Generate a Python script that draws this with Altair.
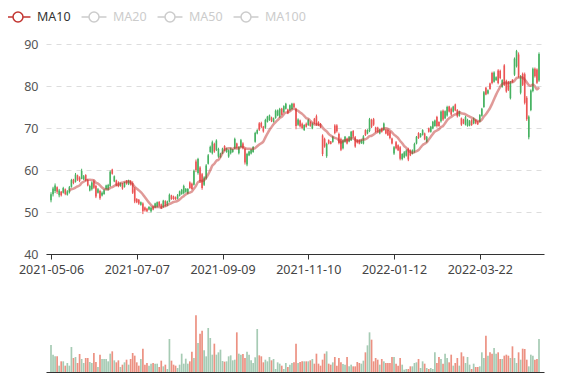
import altair as alt
import numpy as np
import pandas as pd

# ---------------- data ----------------
opens = [52.8, 54.2, 55.0, 55.9, 54.0, 54.8, 54.6, 55.4, 54.1, 54.7,
         56.0, 57.7, 57.2, 58.7, 58.2, 57.9, 57.8, 58.8, 57.6, 55.1,
         55.4, 57.3, 56.2, 54.6, 55.0, 53.9, 54.3, 55.4, 55.3, 56.2,
         60.1, 57.3, 57.5, 57.0, 56.2, 56.7, 56.0, 57.4, 56.6, 57.4,
         56.9, 55.5, 53.1, 52.9, 51.7, 52.0, 51.1, 50.8, 50.6, 50.2,
         51.3, 51.1, 51.3, 52.4, 51.8, 51.2, 52.6, 51.6, 52.5, 53.9,
         53.7, 53.5, 53.2, 53.9, 54.3, 54.5, 54.8, 54.4, 57.0, 56.7,
         56.5, 62.0, 59.3, 60.6, 59.0, 56.5, 58.0, 61.5, 64.3, 64.0,
         66.2, 64.8, 63.2, 63.1, 64.0, 65.7, 64.3, 63.2, 64.0, 64.3,
         65.1, 66.3, 64.0, 65.5, 66.3, 65.0, 61.3, 63.5, 63.9, 64.3,
         66.7, 68.7, 71.1, 71.2, 70.3, 70.1, 71.5, 71.9, 72.5, 71.5,
         72.4, 73.0, 72.7, 74.6, 73.8, 74.6, 74.4, 74.2, 74.5, 75.8,
         74.5, 70.8, 71.8, 71.0, 69.5, 71.0, 70.7, 71.4, 69.9, 72.2,
         72.8, 71.4, 71.0, 68.2, 67.4, 63.3, 67.1, 66.8, 66.7, 70.6,
         70.6, 68.6, 67.4, 65.2, 66.7, 67.5, 66.8, 67.1, 69.3, 67.8,
         67.1, 67.1, 66.4, 66.3, 69.5, 68.7, 69.3, 71.9, 72.1, 70.1,
         70.1, 68.7, 69.9, 69.5, 69.6, 69.5, 69.0, 67.5, 63.9, 66.6,
         65.9, 65.4, 62.6, 63.0, 63.4, 65.0, 64.7, 63.9, 64.4, 66.3,
         68.8, 67.9, 68.4, 68.7, 66.7, 69.9, 69.1, 69.9, 70.5, 72.6,
         71.4, 71.6, 74.1, 72.3, 73.0, 75.1, 74.6, 73.9, 75.6, 74.3,
         72.9, 72.3, 72.0, 70.8, 70.5, 70.6, 71.9, 71.1, 71.9, 71.5,
         71.5, 72.9, 75.0, 79.6, 78.2, 80.6, 83.1, 81.0, 81.4, 83.7,
         83.6, 79.8, 84.9, 81.2, 80.9, 77.1, 81.5, 82.7, 84.7, 87.5,
         78.4, 82.9, 82.8, 77.2, 67.8, 74.3, 78.8, 84.1, 83.9, 81.3]
closes = [54.2, 55.6, 56.3, 54.8, 55.1, 54.0, 55.7, 54.3, 54.9, 55.9,
          57.6, 56.9, 58.9, 57.7, 57.4, 59.8, 58.5, 57.5, 56.3, 56.2,
          57.0, 55.8, 53.7, 55.4, 53.3, 54.6, 55.2, 56.3, 56.4, 59.6,
          59.1, 58.5, 56.3, 56.1, 56.8, 55.6, 57.0, 56.7, 57.5, 56.6,
          54.6, 52.5, 52.3, 52.0, 52.3, 50.2, 50.4, 50.2, 51.2, 51.0,
          50.6, 52.0, 52.3, 51.5, 50.9, 52.7, 51.5, 52.5, 54.1, 53.1,
          53.1, 53.0, 54.0, 54.9, 55.3, 56.2, 55.5, 55.5, 55.7, 55.5,
          59.8, 60.0, 62.6, 57.3, 55.7, 58.2, 61.1, 63.5, 65.5, 66.6,
          64.4, 67.0, 65.0, 63.9, 65.1, 64.7, 65.1, 64.7, 65.1, 64.9,
          67.4, 65.3, 65.5, 67.1, 65.2, 61.8, 63.8, 64.4, 64.8, 65.5,
          68.8, 69.5, 69.6, 70.3, 69.2, 71.9, 72.7, 73.0, 71.6, 72.3,
          74.1, 74.2, 74.5, 73.2, 75.2, 75.8, 73.5, 75.4, 75.8, 75.0,
          70.5, 72.0, 70.4, 70.0, 70.7, 70.3, 71.9, 70.5, 71.0, 71.1,
          70.8, 70.7, 70.2, 63.8, 65.6, 66.2, 66.3, 66.2, 67.9, 68.8,
          69.2, 66.4, 64.8, 67.0, 67.9, 66.3, 67.9, 69.1, 67.9, 65.6,
          66.5, 66.3, 67.1, 68.0, 68.3, 69.5, 72.1, 70.3, 70.8, 69.1,
          69.1, 69.6, 69.1, 71.1, 68.7, 68.3, 67.6, 66.3, 65.4, 65.2,
          64.7, 62.7, 63.8, 64.2, 64.6, 62.5, 63.5, 64.7, 66.2, 67.9,
          67.6, 68.6, 69.5, 67.3, 67.9, 69.1, 70.3, 71.5, 71.8, 70.5,
          70.5, 73.9, 72.0, 74.0, 75.0, 73.9, 73.2, 75.1, 74.2, 72.8,
          73.9, 70.8, 71.1, 72.6, 71.9, 71.6, 70.7, 72.3, 71.1, 70.9,
          73.1, 74.6, 78.5, 78.0, 79.0, 79.3, 80.7, 83.2, 82.1, 80.7,
          81.9, 81.4, 80.3, 78.7, 79.1, 80.9, 80.9, 86.5, 88.3, 82.4,
          82.3, 80.3, 76.0, 72.1, 72.7, 78.9, 84.1, 82.3, 80.8, 87.6]
highs = [54.7, 56.0, 56.8, 56.1, 55.5, 55.0, 56.0, 55.6, 55.2, 56.2,
         57.9, 57.9, 59.3, 58.9, 58.5, 60.3, 58.8, 59.0, 57.9, 56.5,
         57.3, 57.7, 56.5, 55.7, 55.3, 54.9, 55.5, 56.5, 56.7, 59.9,
         60.3, 58.7, 57.7, 57.3, 57.0, 56.9, 57.2, 57.6, 57.7, 57.6,
         57.3, 55.9, 53.3, 53.1, 52.5, 52.3, 51.3, 51.0, 51.4, 51.3,
         51.5, 52.2, 52.5, 52.6, 52.0, 52.9, 52.8, 52.7, 54.4, 54.1,
         53.9, 53.7, 54.3, 55.1, 55.5, 56.5, 55.7, 55.7, 57.3, 57.0,
         60.1, 62.5, 62.9, 60.9, 59.3, 58.5, 61.4, 63.8, 65.8, 67.0,
         66.5, 67.3, 65.3, 64.1, 65.3, 65.9, 65.3, 64.9, 65.3, 65.0,
         67.7, 66.5, 65.7, 67.4, 66.6, 65.3, 64.1, 64.6, 65.0, 65.7,
         69.1, 69.7, 71.4, 71.5, 70.5, 72.2, 72.9, 73.2, 72.7, 72.5,
         74.4, 74.4, 74.8, 74.8, 75.4, 76.0, 74.6, 75.6, 76.0, 76.0,
         74.8, 72.3, 72.0, 71.3, 70.9, 71.3, 72.2, 71.6, 71.3, 72.4,
         73.2, 71.6, 71.2, 68.5, 67.7, 66.5, 67.3, 66.9, 68.1, 70.9,
         70.9, 68.9, 67.7, 67.3, 68.1, 67.7, 68.1, 69.3, 69.5, 68.1,
         67.3, 67.3, 67.3, 68.3, 69.7, 69.7, 72.4, 72.2, 72.4, 70.3,
         70.3, 69.8, 70.1, 71.3, 69.8, 69.7, 69.3, 67.7, 65.7, 66.9,
         66.1, 65.7, 64.0, 64.5, 64.9, 65.3, 64.9, 64.9, 66.5, 68.1,
         69.0, 68.8, 69.7, 68.9, 68.1, 70.1, 70.5, 71.7, 72.0, 72.9,
         71.6, 74.2, 74.4, 74.2, 75.3, 75.3, 74.9, 75.3, 75.8, 74.5,
         74.1, 72.5, 72.2, 72.9, 72.2, 71.9, 72.1, 72.5, 72.1, 71.7,
         73.3, 74.8, 78.8, 79.8, 79.2, 80.8, 83.4, 83.5, 82.3, 84.0,
         83.9, 81.6, 85.2, 81.5, 81.2, 81.2, 81.6, 86.8, 88.6, 88.0,
         82.6, 83.2, 83.2, 77.6, 73.0, 79.2, 84.4, 84.4, 84.2, 88.0]
lows = [52.3, 53.7, 54.5, 54.3, 53.5, 53.7, 54.4, 54.0, 53.9, 54.4,
        55.8, 56.6, 57.0, 57.4, 57.1, 57.8, 57.6, 57.3, 56.1, 54.9,
        55.1, 55.5, 53.3, 54.4, 52.9, 53.7, 54.1, 55.3, 55.1, 56.0,
        58.9, 57.1, 56.1, 55.9, 56.0, 55.3, 55.8, 56.5, 56.4, 56.3,
        54.3, 52.1, 52.1, 51.7, 51.5, 49.5, 50.1, 50.0, 50.4, 49.9,
        50.4, 50.9, 51.1, 51.3, 50.7, 51.0, 51.3, 51.4, 52.3, 52.9,
        52.9, 52.9, 53.0, 53.7, 54.1, 54.2, 54.6, 54.2, 55.5, 55.3,
        56.3, 59.5, 58.9, 56.9, 55.3, 56.2, 57.7, 61.3, 64.1, 63.7,
        64.1, 64.5, 62.9, 62.9, 63.8, 64.5, 64.1, 62.9, 63.7, 64.1,
        64.9, 65.1, 63.7, 65.3, 64.9, 61.3, 60.9, 63.3, 63.7, 64.1,
        66.5, 68.5, 69.3, 70.0, 68.9, 69.8, 71.3, 71.7, 71.4, 71.3,
        72.2, 72.8, 72.4, 73.0, 73.6, 74.4, 73.3, 74.0, 74.3, 74.8,
        69.7, 70.5, 70.1, 69.7, 69.3, 70.1, 70.5, 70.3, 69.7, 70.9,
        70.5, 70.5, 70.0, 63.3, 65.3, 62.9, 66.1, 66.1, 66.5, 68.5,
        68.9, 66.1, 64.5, 64.9, 66.5, 66.1, 66.6, 66.9, 67.7, 65.3,
        66.3, 66.1, 66.2, 66.1, 68.1, 68.5, 69.0, 70.0, 70.5, 68.9,
        68.9, 68.5, 68.9, 69.3, 68.5, 68.1, 67.3, 66.1, 63.6, 64.9,
        64.5, 62.3, 62.3, 62.8, 63.2, 62.1, 63.3, 63.7, 64.1, 66.1,
        67.4, 67.7, 68.2, 67.1, 66.5, 68.9, 68.9, 69.7, 70.3, 70.1,
        70.3, 71.3, 71.7, 72.1, 72.7, 73.7, 72.9, 73.7, 74.0, 72.5,
        72.7, 70.5, 70.9, 70.6, 70.3, 70.4, 70.5, 70.9, 70.9, 70.7,
        71.3, 72.7, 74.8, 77.8, 78.0, 79.1, 80.4, 80.8, 81.2, 80.4,
        81.6, 79.6, 80.0, 78.4, 78.8, 76.8, 80.8, 82.4, 84.4, 82.0,
        78.0, 80.0, 75.6, 71.7, 67.3, 74.0, 78.5, 82.0, 80.5, 81.0]
volumes = [81, 52, 47, 47, 19, 32, 32, 19, 27, 19, 75, 42, 45,
           27, 54, 39, 27, 42, 42, 30, 27, 57, 30, 15, 52, 39, 39, 39, 32, 55, 62, 35, 29, 35, 15, 22, 29, 37, 22,
           39, 57, 49, 29, 19, 39, 70, 22, 27, 19, 25, 27, 25, 25, 15, 34, 17, 22, 9,
           99, 34, 22, 19, 12, 22, 55, 25, 40, 25, 32, 61, 42, 170, 87, 115, 124, 65, 47, 132,
           102, 52, 85, 52, 59, 67, 33, 31, 32, 47, 50, 35, 37, 119, 55, 52, 54, 42,
           61, 52, 35, 27, 44, 129, 50, 47, 29, 37, 32, 45, 35, 39, 9, 29, 25, 19, 9, 27, 15, 22, 27,
           29, 85, 27, 30, 32, 32, 32, 32, 35, 39, 25, 55, 25, 19, 37, 55, 62, 25, 22, 29, 45, 19, 42, 29, 24, 22, 45,
           17, 22, 17, 17, 30, 27, 25, 34, 59, 80, 119, 97, 32, 42, 37, 22, 39, 32, 27, 27, 27, 45, 45, 25, 19,
           42, 22, 7, 9, 9, 17, 17, 27, 29, 39, 12, 32, 25, 12, 9, 12, 9, 59, 27, 45, 39, 25, 55, 42, 29, 52, 19, 27, 42,
           19, 59, 47, 27, 45, 22, 9, 25, 15, 15, 17, 59, 42, 109, 49, 59, 55, 72, 55, 59, 39, 39, 49, 52, 49, 42,
           77, 42, 27, 59, 37, 70, 69, 37, 17, 52, 49, 37, 39, 99]

tick_positions = [0, 42, 84, 126, 168, 210]
tick_labels = ["2021-05-06", "2021-07-07", "2021-09-09", "2021-11-10", "2022-01-12", "2022-03-22"]
price_ticks = [40, 50, 60, 70, 80, 90]
ma_series = ["MA10", "MA20", "MA50", "MA100"]

# ---------------- styles ----------------
FONT = "Noto Sans"
FS = 12.5
UP, DOWN = "#47b262", "#eb5454"
VOL_UP, VOL_DOWN = "#a6cbb4", "#ec9182"
MA_RED = "#c23531"
AXIS = "#333333"

n = len(closes)
df = pd.DataFrame({"idx": np.arange(n), "open": opens, "close": closes,
                   "high": highs, "low": lows, "volume": volumes})
df["dir"] = np.where(df["close"] >= df["open"], "up", "down")

label_expr = "[" + ",".join(f"'{t}'" for t in tick_labels) + "][indexof([" + \
    ",".join(str(p) for p in tick_positions) + "], datum.value)]"

x_scale = alt.Scale(domain=[0, n - 1], nice=False, zero=False)
x_main = alt.X("idx:Q", scale=x_scale,
               axis=alt.Axis(values=tick_positions, labelExpr=label_expr, title=None,
                             grid=False, domainColor=AXIS, tickColor=AXIS, tickSize=5,
                             labelColor="#444", labelFont=FONT, labelFontSize=FS,
                             labelPadding=4, labelFlush=False, labelOverlap=False))
y_scale = alt.Scale(domain=[40, 90], nice=False, zero=False)
y_axis = alt.Axis(values=price_ticks, title=None, domain=False, ticks=False,
                  labelColor="#555", labelFont=FONT, labelFontSize=FS, labelPadding=8,
                  grid=True, gridColor="#dddddd", gridDash=[5, 5])
dir_color = alt.Color("dir:N", scale=alt.Scale(domain=["up", "down"], range=[UP, DOWN]), legend=None)

base = alt.Chart(df)
wicks = base.mark_rule(strokeWidth=1).encode(
    x=x_main, y=alt.Y("low:Q", scale=y_scale, axis=y_axis), y2="high:Q", color=dir_color)
bodies = base.mark_bar(size=1.6).encode(
    x="idx:Q", y="open:Q", y2="close:Q", color=dir_color)

# legend icon: a 25px line with a 5px-radius hollow circle, drawn on a 12px symbol cell
sym = ("M-2.08,0L-0.83,0M0.83,0L2.08,0M-0.83,0A0.83,0.83,0,1,1,0.83,0"
       "A0.83,0.83,0,1,1,-0.83,0Z")
ma = base.transform_window(
    ma="mean(close)", cnt="count()", frame=[-9, 0], sort=[alt.SortField("idx")]
).transform_filter("datum.cnt >= 10").transform_calculate(series="'MA10'").mark_line(
    strokeWidth=2.5, opacity=0.5, interpolate="monotone"
).encode(
    x="idx:Q", y="ma:Q",
    stroke=alt.Stroke("series:N",
                      scale=alt.Scale(domain=ma_series, range=[MA_RED, "#cccccc", "#cccccc", "#cccccc"]),
                      legend=alt.Legend(title=None, orient="none", legendX=-35, legendY=-34,
                                        direction="horizontal", columns=4, gridAlign="none",
                                        symbolType=sym, symbolSize=144, symbolStrokeWidth=1.5,
                                        symbolFillColor="white", symbolOpacity=1,
                                        labelFont=FONT, labelFontSize=FS, labelOffset=12,
                                        columnPadding=7,
                                        labelColor={"expr": "datum.label == 'MA10' ? '#333333' : '#cccccc'"})),
)

main = alt.layer(wicks, bodies, ma).properties(width=498, height=210)

vol = alt.Chart(df).mark_bar(size=1.7).encode(
    x=alt.X("idx:Q", scale=x_scale,
            axis=alt.Axis(labels=False, ticks=False, grid=False, title=None, domainColor=AXIS)),
    y=alt.Y("volume:Q", scale=alt.Scale(domain=[0, 180], nice=False), axis=None),
    color=alt.Color("dir:N", scale=alt.Scale(domain=["up", "down"], range=[VOL_UP, VOL_DOWN]), legend=None),
).properties(width=498, height=60)

chart = alt.vconcat(main, vol, spacing=58, bounds="flush").resolve_scale(
    color="independent"
).properties(
    padding={"left": 3, "top": 2, "right": 5, "bottom": 5}, background="white"
).configure_view(stroke=None)

chart.save("out.html", embed_options={"renderer": "svg", "actions": False})
